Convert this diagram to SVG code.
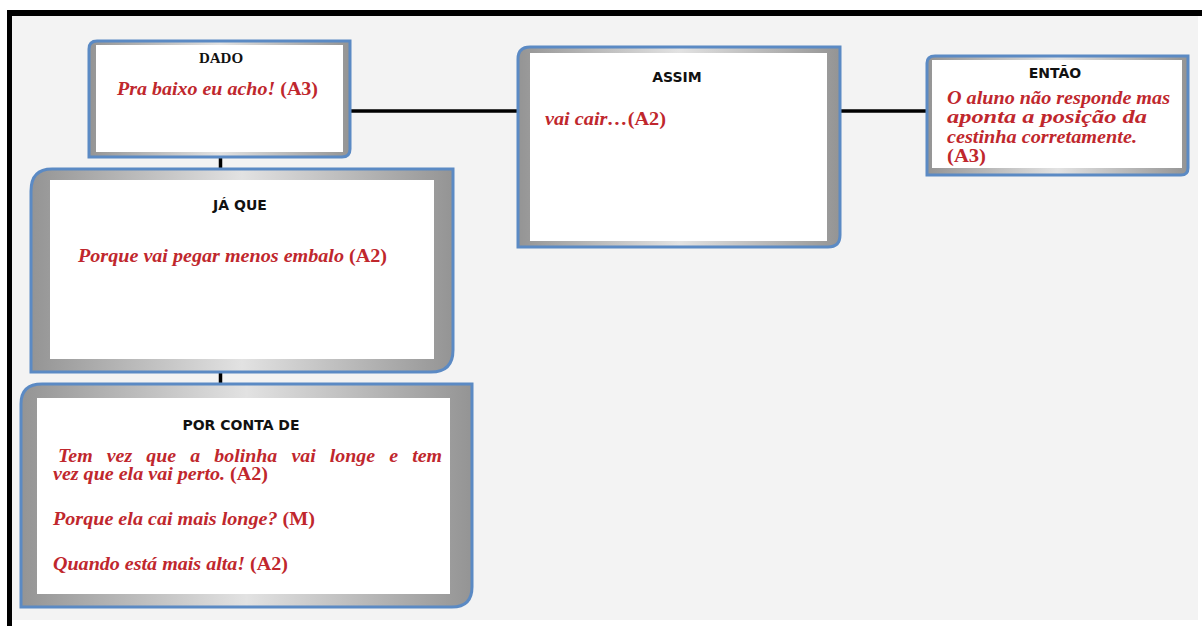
<svg xmlns="http://www.w3.org/2000/svg" width="1202" height="626" viewBox="0 0 1202 626">
  <style>
    .frame { fill: url(#bevel); stroke: #5b8ac4; stroke-width: 3; }
    .inner { fill: #ffffff; }
    .conn { stroke: #000000; stroke-width: 3.5; fill: none; }
    .head { font-family: "DejaVu Sans", "Open Sans", sans-serif; font-weight: bold; font-size: 14px; fill: #111111; text-anchor: middle; }
    .headserif { font-family: "Liberation Serif", "Times New Roman", serif; font-weight: bold; font-size: 15px; fill: #111111; text-anchor: middle; }
    .say { font-family: "Liberation Serif", "Times New Roman", serif; font-weight: bold; font-style: italic; font-size: 18px; fill: #c0272d; }
    .tag { font-style: normal; }
  </style>
  <defs>
    <linearGradient id="bevel" x1="0" y1="0" x2="1" y2="0">
      <stop offset="0" stop-color="#949494"/>
      <stop offset="0.5" stop-color="#e2e2e2"/>
      <stop offset="1" stop-color="#949494"/>
    </linearGradient>
  </defs>

  <!-- page background and frame edges -->
  <rect x="0" y="0" width="1202" height="626" fill="#ffffff"/>
  <rect x="12" y="16" width="1186" height="604" fill="#f3f3f3"/>
  <rect x="7" y="10" width="1195" height="6" fill="#000000"/>
  <rect x="7" y="10" width="5" height="616" fill="#000000"/>

  <!-- connectors -->
  <g id="connectors">
    <line class="conn" x1="350" y1="111" x2="519" y2="111"/>
    <line class="conn" x1="840" y1="111" x2="928" y2="111"/>
    <line class="conn" x1="220.5" y1="157" x2="220.5" y2="172" stroke-width="4.5"/>
    <line class="conn" x1="220.5" y1="370" x2="220.5" y2="385" stroke-width="4.5"/>
  </g>

  <!-- DADO -->
  <g id="node-dado">
    <path class="frame" d="M97,41 H350 V149 Q350,157 342,157 H89 V49 Q89,41 97,41 Z"/>
    <rect class="inner" x="96" y="45" width="247" height="107"/>
    <text class="headserif" x="221" y="63">DADO</text>
    <text class="say" x="117" y="95" textLength="201" lengthAdjust="spacingAndGlyphs">Pra baixo eu acho! <tspan class="tag">(A3)</tspan></text>
  </g>

  <!-- ASSIM -->
  <g id="node-assim">
    <path class="frame" d="M530,47 H840 V235 Q840,247 828,247 H518 V59 Q518,47 530,47 Z"/>
    <rect class="inner" x="530" y="53" width="297" height="188"/>
    <text class="head" x="677" y="82">ASSIM</text>
    <text class="say" x="545" y="125" textLength="121" lengthAdjust="spacingAndGlyphs">vai cair…<tspan class="tag">(A2)</tspan></text>
  </g>

  <!-- ENTÃO -->
  <g id="node-entao">
    <path class="frame" d="M935,56 H1188 V168 Q1188,175 1181,175 H927 V63 Q927,56 935,56 Z"/>
    <rect class="inner" x="932" y="60" width="250" height="108"/>
    <text class="head" x="1055" y="78">ENTÃO</text>
    <text class="say" x="947" y="104" textLength="223" lengthAdjust="spacingAndGlyphs">O aluno não responde mas</text>
    <text class="say" x="947" y="123" textLength="200" lengthAdjust="spacingAndGlyphs">aponta a posição da</text>
    <text class="say" x="947" y="143" textLength="190" lengthAdjust="spacingAndGlyphs">cestinha corretamente.</text>
    <text class="say" x="947" y="162" textLength="39" lengthAdjust="spacingAndGlyphs"><tspan class="tag">(A3)</tspan></text>
  </g>

  <!-- JÁ QUE -->
  <g id="node-ja-que">
    <path class="frame" d="M52,169 H453 V350 Q453,372 431,372 H31 V191 Q31,169 52,169 Z"/>
    <rect class="inner" x="50" y="180" width="384" height="179"/>
    <text class="head" x="240" y="210">JÁ QUE</text>
    <text class="say" x="78" y="262" textLength="309" lengthAdjust="spacingAndGlyphs">Porque vai pegar menos embalo <tspan class="tag">(A2)</tspan></text>
  </g>

  <!-- POR CONTA DE -->
  <g id="node-por-conta-de">
    <path class="frame" d="M42,384 H472 V587 Q472,607 452,607 H21 V404 Q21,384 42,384 Z"/>
    <rect class="inner" x="37" y="398" width="413" height="196"/>
    <text class="head" x="241" y="430">POR CONTA DE</text>
    <text class="say" x="58" y="462" word-spacing="8.3" textLength="384" lengthAdjust="spacingAndGlyphs">Tem vez que a bolinha vai longe e tem</text>
    <text class="say" x="53" y="480" textLength="215" lengthAdjust="spacingAndGlyphs">vez que ela vai perto. <tspan class="tag">(A2)</tspan></text>
    <text class="say" x="53" y="525" textLength="262" lengthAdjust="spacingAndGlyphs">Porque ela cai mais longe? <tspan class="tag">(M)</tspan></text>
    <text class="say" x="53" y="570" textLength="235" lengthAdjust="spacingAndGlyphs">Quando está mais alta! <tspan class="tag">(A2)</tspan></text>
  </g>
</svg>
